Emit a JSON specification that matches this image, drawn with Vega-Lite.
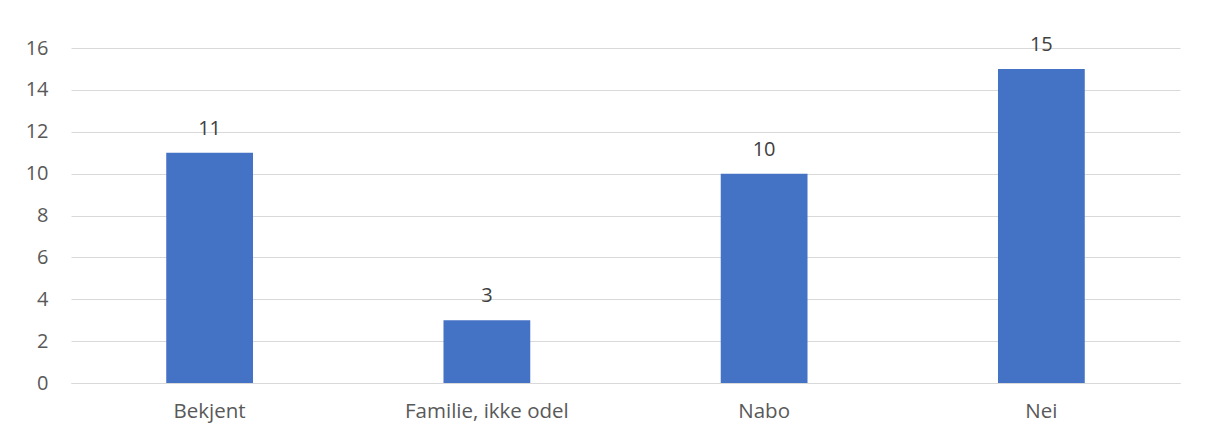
{
  "$schema": "https://vega.github.io/schema/vega-lite/v6.json",
  "width": 1109,
  "height": 335,
  "autosize": {"type": "none"},
  "padding": {"left": 71, "top": 48, "right": 29, "bottom": 47},
  "background": "white",
  "config": {
    "view": {"stroke": null},
    "font": "Open Sans"
  },
  "data": {
    "values": [
      {"kategori": "Bekjent", "antall": 11},
      {"kategori": "Familie, ikke odel", "antall": 3},
      {"kategori": "Nabo", "antall": 10},
      {"kategori": "Nei", "antall": 15}
    ]
  },
  "encoding": {
    "x": {
      "field": "kategori",
      "type": "nominal",
      "sort": null,
      "scale": {"paddingInner": 0.687, "paddingOuter": 0.3435},
      "axis": {
        "title": null,
        "labelAngle": 0,
        "labelFontSize": 20.5,
        "labelColor": "#595959",
        "labelPadding": 18,
        "ticks": false,
        "domainColor": "#d9d9d9",
        "domainWidth": 1
      }
    },
    "y": {
      "field": "antall",
      "type": "quantitative",
      "scale": {"domain": [0, 16], "nice": false},
      "axis": {
        "title": null,
        "values": [0, 2, 4, 6, 8, 10, 12, 14, 16],
        "labelFontSize": 20,
        "labelColor": "#595959",
        "labelPadding": 23,
        "ticks": false,
        "domain": false,
        "gridColor": "#d9d9d9",
        "gridWidth": 1
      }
    }
  },
  "layer": [
    {"mark": {"type": "bar", "color": "#4472C4"}},
    {
      "mark": {"type": "text", "baseline": "bottom", "dy": -14, "fontSize": 20, "color": "#404040"},
      "encoding": {"text": {"field": "antall", "type": "quantitative"}}
    }
  ]
}
